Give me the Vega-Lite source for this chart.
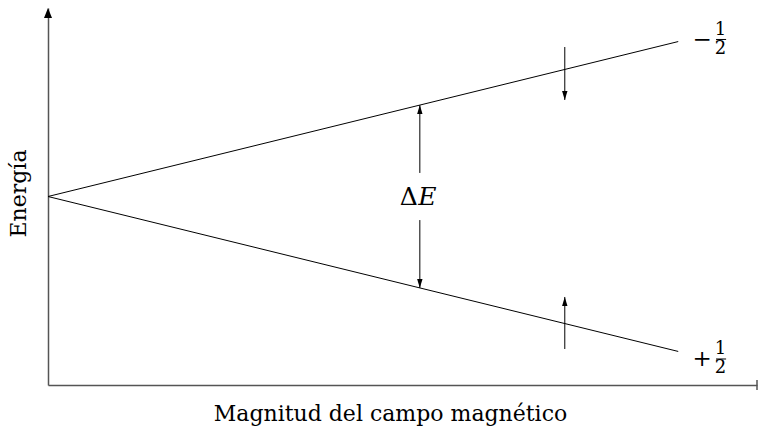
{
  "$schema": "https://vega.github.io/schema/vega-lite/v6.json",
  "width": 709,
  "height": 377,
  "autosize": {"type": "none"},
  "padding": {"left": 48, "top": 8, "right": 1, "bottom": 47},
  "background": "white",
  "config": {
    "view": {"stroke": null},
    "font": "DejaVu Serif",
    "axis": {
      "grid": false, "ticks": false, "labels": false,
      "domainColor": "#555", "domainWidth": 1.5,
      "titleFont": "DejaVu Serif", "titleFontWeight": "normal", "titleColor": "black", "titleFontSize": 22
    }
  },
  "datasets": {
    "lines": [
      {"B": 0, "E": 0, "spin": "-1/2"}, {"B": 1, "E": 0.822, "spin": "-1/2"},
      {"B": 0, "E": 0, "spin": "+1/2"}, {"B": 1, "E": -0.822, "spin": "+1/2"}
    ],
    "shafts": [
      {"x": 0.59, "y": 0.125, "y2": 0.485},
      {"x": 0.59, "y": -0.125, "y2": -0.485},
      {"x": 0.82, "y": 0.793, "y2": 0.512},
      {"x": 0.82, "y": -0.533, "y2": -0.809}
    ],
    "headsUp": [{"x": 0.59, "y": 0.485}, {"x": 0.82, "y": -0.533}],
    "headsDown": [{"x": 0.59, "y": -0.485}, {"x": 0.82, "y": 0.512}],
    "axisArrow": [{"x": 0, "y": 1}],
    "axisEnd": [{"x": 1.125, "y": -0.973, "y2": -1.027}],
    "signs": [{"x": 1.038, "y": 0.83, "t": "−"}, {"x": 1.038, "y": -0.862, "t": "+"}],
    "fracs": [
      {"x": 1.067, "y": 0.881, "t": "1\n2"},
      {"x": 1.067, "y": -0.811, "t": "1\n2"}
    ],
    "bars": [
      {"x": 1.06, "x2": 1.076, "y": 0.833},
      {"x": 1.06, "x2": 1.076, "y": -0.862}
    ],
    "delta": [{"x": 0.5725, "y": -0.045, "t": "Δ"}],
    "eLabel": [{"x": 0.602, "y": -0.045, "t": "E"}]
  },
  "layer": [
    {
      "data": {"name": "lines"},
      "mark": {"type": "line", "color": "black", "strokeWidth": 1},
      "encoding": {
        "x": {"field": "B", "type": "quantitative", "scale": {"domain": [0, 1.125], "nice": false, "zero": false},
              "axis": {"title": "Magnitud del campo magnético", "titleX": 342, "titleY": 28, "titleAlign": "center", "titleBaseline": "middle"}},
        "y": {"field": "E", "type": "quantitative", "scale": {"domain": [-1, 1], "nice": false, "zero": false},
              "axis": {"title": "Energía", "titleX": -30, "titleY": 185, "titleAngle": -90, "titleBaseline": "middle", "titleAlign": "center"}},
        "detail": {"field": "spin"}
      }
    },
    {
      "data": {"name": "shafts"},
      "mark": {"type": "rule", "color": "black", "strokeWidth": 1},
      "encoding": {
        "x": {"field": "x", "type": "quantitative"},
        "y": {"field": "y", "type": "quantitative"},
        "y2": {"field": "y2"}
      }
    },
    {
      "data": {"name": "headsUp"},
      "mark": {"type": "point", "shape": "M0,0L-0.3,1L0.3,1Z", "size": 324, "filled": true, "color": "black", "opacity": 1, "strokeWidth": 0},
      "encoding": {
        "x": {"field": "x", "type": "quantitative"},
        "y": {"field": "y", "type": "quantitative"}
      }
    },
    {
      "data": {"name": "headsDown"},
      "mark": {"type": "point", "shape": "M0,0L-0.3,-1L0.3,-1Z", "size": 324, "filled": true, "color": "black", "opacity": 1, "strokeWidth": 0},
      "encoding": {
        "x": {"field": "x", "type": "quantitative"},
        "y": {"field": "y", "type": "quantitative"}
      }
    },
    {
      "data": {"name": "axisArrow"},
      "mark": {"type": "point", "shape": "M0,0L-0.4,1L0.4,1Z", "size": 400, "filled": true, "color": "black", "opacity": 1, "strokeWidth": 0},
      "encoding": {
        "x": {"field": "x", "type": "quantitative"},
        "y": {"field": "y", "type": "quantitative"}
      }
    },
    {
      "data": {"name": "axisEnd"},
      "mark": {"type": "rule", "color": "#555", "strokeWidth": 1.5},
      "encoding": {
        "x": {"field": "x", "type": "quantitative"},
        "y": {"field": "y", "type": "quantitative"},
        "y2": {"field": "y2"}
      }
    },
    {
      "data": {"name": "signs"},
      "mark": {"type": "text", "font": "DejaVu Serif", "fontSize": 23, "color": "black", "align": "center", "baseline": "middle"},
      "encoding": {
        "x": {"field": "x", "type": "quantitative"},
        "y": {"field": "y", "type": "quantitative"},
        "text": {"field": "t"}
      }
    },
    {
      "data": {"name": "fracs"},
      "mark": {"type": "text", "font": "DejaVu Serif", "fontSize": 18, "lineHeight": 19, "lineBreak": "\n", "color": "black", "align": "center", "baseline": "middle"},
      "encoding": {
        "x": {"field": "x", "type": "quantitative"},
        "y": {"field": "y", "type": "quantitative"},
        "text": {"field": "t"}
      }
    },
    {
      "data": {"name": "bars"},
      "mark": {"type": "rule", "color": "black", "strokeWidth": 1},
      "encoding": {
        "x": {"field": "x", "type": "quantitative"},
        "x2": {"field": "x2"},
        "y": {"field": "y", "type": "quantitative"}
      }
    },
    {
      "data": {"name": "delta"},
      "mark": {"type": "text", "font": "DejaVu Serif", "fontSize": 25, "color": "black", "align": "center", "baseline": "alphabetic"},
      "encoding": {
        "x": {"field": "x", "type": "quantitative"},
        "y": {"field": "y", "type": "quantitative"},
        "text": {"field": "t"}
      }
    },
    {
      "data": {"name": "eLabel"},
      "mark": {"type": "text", "font": "DejaVu Serif", "fontStyle": "italic", "fontSize": 25, "color": "black", "align": "center", "baseline": "alphabetic"},
      "encoding": {
        "x": {"field": "x", "type": "quantitative"},
        "y": {"field": "y", "type": "quantitative"},
        "text": {"field": "t"}
      }
    }
  ]
}
